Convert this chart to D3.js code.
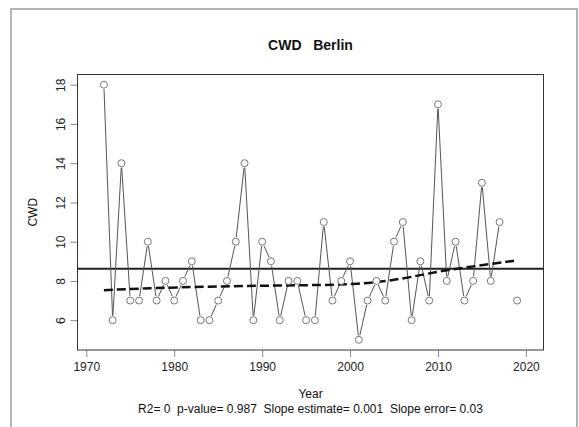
<!DOCTYPE html>
<html>
<head>
<meta charset="utf-8">
<script src="https://cdn.jsdelivr.net/npm/d3@7"></script>
<style>
  body { margin: 0; background: #fff; }
  text { font-family: 'Liberation Sans', Arial, sans-serif; fill: #111; }
</style>
</head>
<body>
<script>
// CWD Berlin, one value per year (2018 missing)
let years = [1972, 1973, 1974, 1975, 1976, 1977, 1978, 1979, 1980, 1981,
  1982, 1983, 1984, 1985, 1986, 1987, 1988, 1989, 1990, 1991,
  1992, 1993, 1994, 1995, 1996, 1997, 1998, 1999, 2000, 2001,
  2002, 2003, 2004, 2005, 2006, 2007, 2008, 2009, 2010, 2011,
  2012, 2013, 2014, 2015, 2016, 2017, 2018, 2019]
let cwd = [18, 6, 14, 7, 7, 10, 7, 8, 7, 8,
  9, 6, 6, 7, 8, 10, 14, 6, 10, 9,
  6, 8, 8, 6, 6, 11, 7, 8, 9, 5,
  7, 8, 7, 10, 11, 6, 9, 7, 17, 8,
  10, 7, 8, 13, 8, 11, null, 7]

// smoothed trend (dashed)
let trendYears = [1972, 1980, 1990, 1997, 2001, 2004, 2007, 2010, 2013, 2016, 2019]
let trendValues = [7.53, 7.68, 7.76, 7.79, 7.84, 7.98, 8.20, 8.48, 8.68, 8.86, 9.05]

let xTicks = [1970, 1980, 1990, 2000, 2010, 2020]
let yTicks = [6, 8, 10, 12, 14, 16, 18]

let title = 'CWD   Berlin'
let subtitle = 'R2= 0  p-value= 0.987  Slope estimate= 0.001  Slope error= 0.03'

let W = 579, H = 427
let box = {left: 77.5, right: 543.5, top: 74.5, bottom: 350}

let svg = d3.select('body').append('svg')
    .attr('width', W)
    .attr('height', H)

// outer frame of the screenshot
svg.append('path')
    .attr('d', 'M11,' + H + ' L11,9 L577,9 L577,' + H)
    .style('fill', 'none')
    .style('stroke', '#b4b4b4')
    .style('stroke-width', 2)

let xScale = d3.scaleLinear().domain([1969.0, 2022.0]).range([box.left, box.right])
let yScale = d3.scaleLinear().domain([4.48, 18.52]).range([box.bottom, box.top])

let points = years.map((y, i) => ({year: y, v: cwd[i]}))
let mean = d3.mean(cwd.filter(v => v != null))

// x axis
let xAxis = d3.axisBottom(xScale).tickValues(xTicks).tickSize(7).tickPadding(5).tickFormat(d3.format('d'))
let gx = svg.append('g').attr('transform', 'translate(0,' + box.bottom + ')').call(xAxis)
gx.select('.domain').remove()
gx.selectAll('line').style('stroke', '#888')
gx.selectAll('text').style('font-size', '12px').style('fill', '#222')

// y axis
let yAxis = d3.axisLeft(yScale).tickValues(yTicks).tickSize(7).tickPadding(0)
let gy = svg.append('g').attr('transform', 'translate(' + box.left + ',0)').call(yAxis)
gy.select('.domain').remove()
gy.selectAll('line').style('stroke', '#888')
gy.selectAll('text')
    .attr('x', 0).attr('dy', 0)
    .attr('text-anchor', 'middle')
    .attr('transform', 'translate(-13,0) rotate(-90)')
    .style('font-size', '12px').style('fill', '#222')

// plot box
svg.append('rect')
    .attr('x', box.left).attr('y', box.top)
    .attr('width', box.right - box.left).attr('height', box.bottom - box.top)
    .style('fill', 'none').style('stroke', '#333').style('stroke-width', 1)

// mean line
svg.append('line')
    .attr('x1', box.left).attr('x2', box.right)
    .attr('y1', yScale(mean)).attr('y2', yScale(mean))
    .style('stroke', '#222').style('stroke-width', 2)

// type="b" line: segments with gaps around points
let r = 3.5
let segs = []
for (let i = 0; i < points.length - 1; i++) {
    let a = points[i], b = points[i + 1]
    if (a.v == null || b.v == null) continue
    let x1 = xScale(a.year), y1 = yScale(a.v), x2 = xScale(b.year), y2 = yScale(b.v)
    let len = Math.hypot(x2 - x1, y2 - y1)
    let g = r + 1
    if (len <= 2 * g) continue
    let ux = (x2 - x1) / len, uy = (y2 - y1) / len
    segs.push([x1 + ux * g, y1 + uy * g, x2 - ux * g, y2 - uy * g])
}
svg.append('g').selectAll('line').data(segs).join('line')
    .attr('x1', d => d[0]).attr('y1', d => d[1])
    .attr('x2', d => d[2]).attr('y2', d => d[3])
    .style('stroke', '#555').style('stroke-width', 1)

// trend
let trend = trendYears.map((y, i) => ({year: y, v: trendValues[i]}))
svg.append('path')
    .datum(trend)
    .attr('d', d3.line().x(d => xScale(d.year)).y(d => yScale(d.v)).curve(d3.curveBasis))
    .style('fill', 'none')
    .style('stroke', '#111')
    .style('stroke-width', 2.5)
    .style('stroke-dasharray', '9,4')

// points
svg.append('g').selectAll('circle').data(points.filter(d => d.v != null)).join('circle')
    .attr('cx', d => xScale(d.year))
    .attr('cy', d => yScale(d.v))
    .attr('r', r)
    .style('fill', '#fff')
    .style('stroke', '#777')
    .style('stroke-width', 1)

// titles
svg.append('text')
    .attr('x', (box.left + box.right) / 2).attr('y', 50)
    .attr('text-anchor', 'middle')
    .style('font-size', '14px').style('font-weight', 'bold')
    .style('white-space', 'pre')
    .text(title)

svg.append('text')
    .attr('x', (box.left + box.right) / 2).attr('y', 398)
    .attr('text-anchor', 'middle')
    .style('font-size', '12px')
    .text('Year')

svg.append('text')
    .attr('x', (box.left + box.right) / 2).attr('y', 413)
    .attr('text-anchor', 'middle')
    .style('font-size', '12px')
    .style('white-space', 'pre')
    .text(subtitle)

svg.append('text')
    .attr('transform', 'translate(37,' + (box.top + box.bottom) / 2 + ') rotate(-90)')
    .attr('text-anchor', 'middle')
    .style('font-size', '12px')
    .text('CWD')
</script>
</body>
</html>
